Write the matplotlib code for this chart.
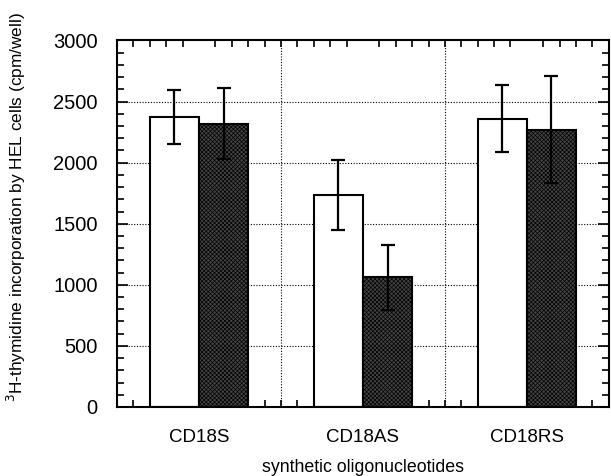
import numpy as np
import matplotlib
matplotlib.use("Agg")
import matplotlib.pyplot as plt
from matplotlib.ticker import MultipleLocator

# values
groups = ['CD18S', 'CD18AS', 'CD18RS']
white_vals = [2375, 1735, 2360]
white_err = [220, 290, 275]
dark_vals = [2320, 1060, 2270]
dark_err = [290, 265, 440]

y_ticks = [0, 500, 1000, 1500, 2000, 2500, 3000]

plt.rcParams['font.family'] = ['Liberation Sans', 'DejaVu Sans']
plt.rcParams['hatch.color'] = '#8c8c8c'
plt.rcParams['hatch.linewidth'] = 0.5

fig = plt.figure(figsize=(6.11, 4.76), dpi=100)
ax = fig.add_axes([0.1915, 0.145, 0.805, 0.77])

x = np.arange(1, len(groups) + 1)
w = 0.3

ax.bar(x - w / 2, white_vals, w, color='white', edgecolor='black', linewidth=1.5, zorder=3)
ax.bar(x + w / 2, dark_vals, w, color='#444444', edgecolor='black', linewidth=1.5,
       hatch='xxxxxxxx', zorder=3)

ax.errorbar(x - w / 2, white_vals, yerr=white_err, fmt='none', ecolor='black',
            elinewidth=1.6, capsize=5, capthick=1.6, zorder=4)
ax.errorbar(x + w / 2, dark_vals, yerr=dark_err, fmt='none', ecolor='black',
            elinewidth=1.6, capsize=5, capthick=1.6, zorder=4)

ax.set_xlim(0.5, 3.5)
ax.set_ylim(0, 3000)

# dotted grid: horizontal every 500, vertical between groups
for yv in y_ticks[1:-1]:
    ax.axhline(yv, color='black', linestyle=(0, (1, 1.5)), linewidth=0.8, zorder=1)
for xv in [1.5, 2.5]:
    ax.axvline(xv, color='black', linestyle=(0, (1, 1.5)), linewidth=0.8, zorder=1)

ax.set_xticks(x)
ax.set_xticklabels(groups)
ax.set_yticks(y_ticks)
ax.xaxis.set_minor_locator(MultipleLocator(0.1))
ax.yaxis.set_minor_locator(MultipleLocator(100))
ax.tick_params(axis='x', which='major', length=0, pad=16, labelsize=13.5)
ax.tick_params(axis='x', which='minor', direction='in', length=5, width=1.2,
               top=True, bottom=True)
ax.tick_params(axis='y', which='both', direction='in', left=True, right=True,
               width=1.2, labelsize=14.5)
ax.tick_params(axis='y', which='major', length=8, pad=14)
ax.tick_params(axis='y', which='minor', length=5)

for sp in ax.spines.values():
    sp.set_linewidth(1.5)
    sp.set_zorder(5)

ax.set_xlabel('synthetic oligonucleotides', fontsize=12.8, labelpad=9)
ax.set_ylabel('$^3$H-thymidine incorporation by HEL cells (cpm/well)', fontsize=12.4)
ax.yaxis.set_label_coords(-0.18, 0.545)

fig.savefig('out.png', dpi=100)
